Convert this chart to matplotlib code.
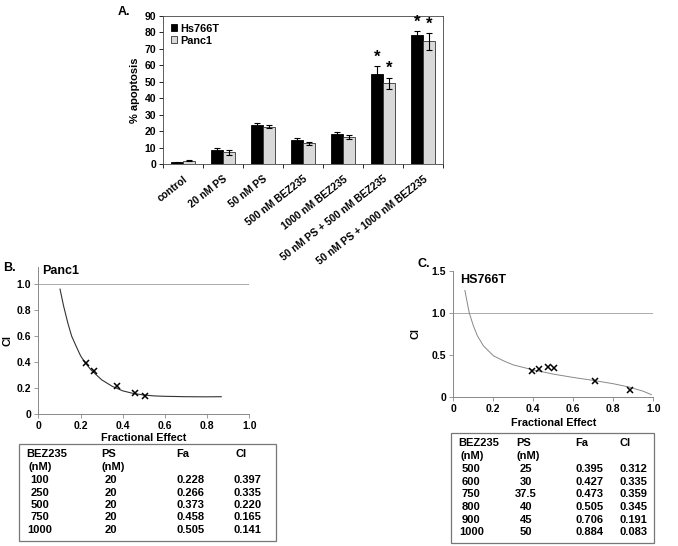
import matplotlib
matplotlib.use("Agg")
import matplotlib.pyplot as plt
from matplotlib.patches import Rectangle
import numpy as np

plt.rcParams['font.family'] = ['Liberation Sans', 'DejaVu Sans']
plt.rcParams['font.weight'] = 'bold'
plt.rcParams['axes.labelweight'] = 'bold'

W, H = 678, 546

# ------------------------------------------------------------------------
# Panel A: % apoptosis bars
# ------------------------------------------------------------------------
groups = ['control', '20 nM PS', '50 nM PS', '500 nM BEZ235', '1000 nM BEZ235',
          '50 nM PS + 500 nM BEZ235', '50 nM PS + 1000 nM BEZ235']
hs766t = [1.2, 8.3, 24.0, 14.5, 18.4, 55.0, 78.3]
hs766t_err = [0.3, 1.5, 1.0, 1.3, 1.3, 4.5, 2.3]
panc1 = [2.0, 7.0, 22.7, 12.6, 16.5, 49.2, 74.5]
panc1_err = [0.4, 1.5, 1.0, 0.9, 1.0, 3.3, 5.0]
signif = [False, False, False, False, False, True, True]

# ------------------------------------------------------------------------
# Panel B: Panc1 combination index
# ------------------------------------------------------------------------
b_curve_fa = [0.103, 0.12, 0.14, 0.158, 0.18, 0.20, 0.22, 0.25, 0.30, 0.35,
              0.40, 0.45, 0.50, 0.55, 0.60, 0.70, 0.80, 0.867]
b_curve_ci = [0.96, 0.83, 0.70, 0.60, 0.52, 0.45, 0.40, 0.34, 0.265, 0.215,
              0.18, 0.16, 0.148, 0.141, 0.138, 0.135, 0.134, 0.135]
b_bez = ['100', '250', '500', '750', '1000']
b_ps = ['20', '20', '20', '20', '20']
b_fa = [0.228, 0.266, 0.373, 0.458, 0.505]
b_ci = [0.397, 0.335, 0.220, 0.165, 0.141]

# ------------------------------------------------------------------------
# Panel C: HS766T combination index
# ------------------------------------------------------------------------
c_curve_fa = [0.058, 0.07, 0.08, 0.10, 0.12, 0.15, 0.20, 0.25, 0.30, 0.35,
              0.40, 0.50, 0.60, 0.70, 0.80, 0.88, 0.95, 0.99]
c_curve_ci = [1.27, 1.12, 1.00, 0.85, 0.73, 0.61, 0.49, 0.43, 0.38, 0.35,
              0.32, 0.27, 0.23, 0.195, 0.155, 0.115, 0.065, 0.025]
c_bez = ['500', '600', '750', '800', '900', '1000']
c_ps = ['25', '30', '37.5', '40', '45', '50']
c_fa = [0.395, 0.427, 0.473, 0.505, 0.706, 0.884]
c_ci = [0.312, 0.335, 0.359, 0.345, 0.191, 0.083]


def px_axes(fig, left, top, right, bottom):
    return fig.add_axes([left / W, 1 - bottom / H, (right - left) / W, (bottom - top) / H])


def px_text(fig, x, y, s, **kw):
    kw.setdefault('fontsize', 8)
    kw.setdefault('va', 'center')
    fig.text(x / W, 1 - y / H, s, **kw)


fig = plt.figure(figsize=(W / 100, H / 100), dpi=100)

# ---------------- Panel A ----------------
ax = px_axes(fig, 163, 16, 443, 164)
x = np.arange(len(groups))
bw = 0.29
ax.bar(x - bw / 2, hs766t, bw, yerr=hs766t_err, color='black', edgecolor='black',
       linewidth=0.6, error_kw=dict(elinewidth=0.8, capsize=2, capthick=0.8), label='Hs766T')
ax.bar(x + bw / 2, panc1, bw, yerr=panc1_err, color='#d9d9d9', edgecolor='#333333',
       linewidth=0.6, error_kw=dict(elinewidth=0.8, capsize=2, capthick=0.8), label='Panc1')
for i, s in enumerate(signif):
    if s:
        ax.text(i - bw / 2, hs766t[i] + hs766t_err[i] + 1, '*', ha='center', va='bottom', fontsize=12)
        ax.text(i + bw / 2, panc1[i] + panc1_err[i] + 1, '*', ha='center', va='bottom', fontsize=12)
ax.set_xlim(-0.5, len(groups) - 0.5)
ax.set_ylim(0, 90)
ax.set_yticks(range(0, 91, 10))
ax.set_xticks(np.arange(len(groups) + 1) - 0.5, minor=False)
ax.set_xticklabels([])
ax.tick_params(axis='both', labelsize=7.5, length=3, width=0.6, pad=2)
for sp in ax.spines.values():
    sp.set_linewidth(0.6)
    sp.set_color('#444444')
ax.set_ylabel('% apoptosis', fontsize=8, labelpad=3)
for i, g in enumerate(groups):
    ax.text(i + 0.0, -6, g, rotation=38, rotation_mode='anchor', ha='right', va='top',
            fontsize=7.4, transform=ax.transData, clip_on=False)
ax.legend(loc='upper left', fontsize=7.8, frameon=False, handlelength=0.6, handleheight=0.6,
          handletextpad=0.3, labelspacing=0.2, borderaxespad=0.3)
px_text(fig, 118, 12, 'A.', fontsize=9)

# ---------------- Panel B ----------------
axb = px_axes(fig, 38.3, 267, 249.3, 414.3)
axb.axhline(1.0, xmin=0, xmax=1, color='#aaaaaa', linewidth=0.7)
axb.plot(b_curve_fa, b_curve_ci, color='#333333', linewidth=0.8)
axb.plot(b_fa, b_ci, 'x', color='black', markersize=5, markeredgewidth=1.1)
axb.set_xlim(0, 1.0)
axb.set_ylim(0, 1.13)
axb.set_xticks([0, 0.2, 0.4, 0.6, 0.8, 1.0])
axb.set_xticklabels(['0', '0.2', '0.4', '0.6', '0.8', '1.0'])
axb.set_yticks([0, 0.2, 0.4, 0.6, 0.8, 1.0])
axb.set_yticklabels(['0', '0.2', '0.4', '0.6', '0.8', '1.0'])
axb.set_xlabel('Fractional Effect', fontsize=7.8, labelpad=1)
axb.set_ylabel('CI', fontsize=7.8, labelpad=3)
axb.text(0.02, 1.1, 'Panc1', fontsize=9, va='center', ha='left')
px_text(fig, 3, 268, 'B.', fontsize=9)

# ---------------- Panel C ----------------
axc = px_axes(fig, 453.3, 271.2, 653.3, 396.7)
axc.axhline(1.0, xmin=0, xmax=1, color='#aaaaaa', linewidth=0.7)
axc.plot(c_curve_fa, c_curve_ci, color='#888888', linewidth=0.7)
axc.plot(c_fa, c_ci, 'x', color='black', markersize=5, markeredgewidth=1.1)
axc.set_xlim(0, 1.0)
axc.set_ylim(0, 1.5)
axc.set_xticks([0, 0.2, 0.4, 0.6, 0.8, 1.0])
axc.set_xticklabels(['0', '0.2', '0.4', '0.6', '0.8', '1.0'])
axc.set_yticks([0, 0.5, 1.0, 1.5])
axc.set_yticklabels(['0', '0.5', '1.0', '1.5'])
axc.set_xlabel('Fractional Effect', fontsize=7.8, labelpad=3)
axc.set_ylabel('CI', fontsize=7.8, labelpad=8)
axc.text(0.035, 1.4, 'HS766T', fontsize=9, va='center', ha='left')
px_text(fig, 418, 264, 'C.', fontsize=9)

for a in (axb, axc):
    a.spines['top'].set_visible(False)
    a.spines['right'].set_visible(False)
    for sp in ('left', 'bottom'):
        a.spines[sp].set_color('#888888')
        a.spines[sp].set_linewidth(0.7)
    a.tick_params(axis='both', labelsize=7.5, length=3, width=0.6, color='#888888', pad=2)

# ---------------- tables ----------------
def draw_table(box, cols, header_y, first_y, step, bez, ps, fa, ci):
    l, t, r, b = box
    fig.patches.append(Rectangle((l / W, 1 - b / H), (r - l) / W, (b - t) / H,
                                 transform=fig.transFigure, fill=False,
                                 edgecolor='#777777', linewidth=0.9))
    cb, cp, cf, cc = cols
    px_text(fig, cb, header_y, 'BEZ235')
    px_text(fig, cb + 2, header_y + 12.3, '(nM)')
    px_text(fig, cp, header_y, 'PS')
    px_text(fig, cp, header_y + 12.3, '(nM)')
    px_text(fig, cf, header_y, 'Fa')
    px_text(fig, cc, header_y, 'CI')
    for k in range(len(bez)):
        y = first_y + k * step
        px_text(fig, cb + 13, y, bez[k], ha='center')
        px_text(fig, cp + 9, y, ps[k], ha='center')
        px_text(fig, cf, y, f'{fa[k]:.3f}')
        px_text(fig, cc - 1, y, f'{ci[k]:.3f}')


draw_table((19, 444.3, 276, 541), (26.7, 101.7, 176.7, 235), 454.3, 480, 12.5,
           b_bez, b_ps, b_fa, b_ci)
draw_table((450.7, 433.3, 654, 542.7), (458.3, 516.7, 575, 620), 443.3, 469, 12.65,
           c_bez, c_ps, c_fa, c_ci)

fig.savefig('out.png', dpi=100)
